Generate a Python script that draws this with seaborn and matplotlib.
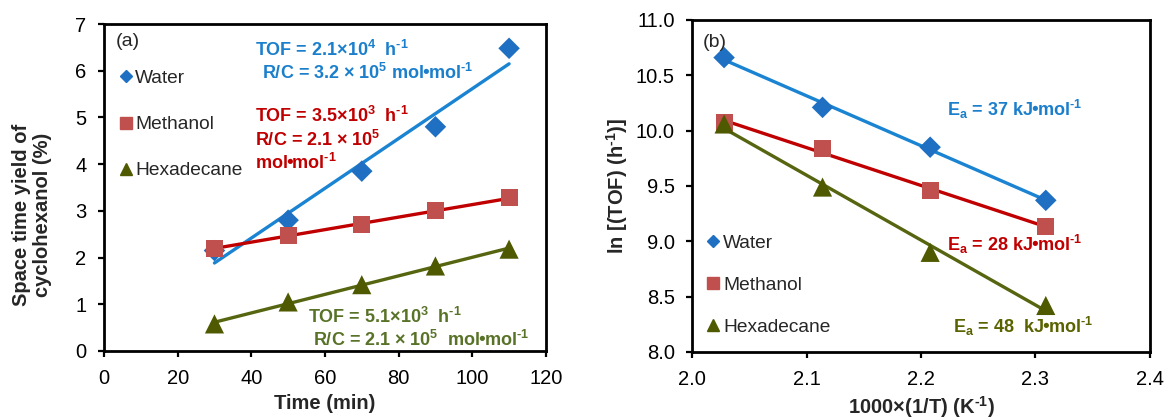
import numpy as np
import pandas as pd
import matplotlib
matplotlib.use("Agg")
import matplotlib.pyplot as plt
from matplotlib.lines import Line2D
import seaborn as sns

# ---- data -------------------------------------------------------------
solvents = ["Water", "Methanol", "Hexadecane"]

time_min = [30, 50, 70, 90, 110]
yield_water = [2.15, 2.80, 3.85, 4.80, 6.48]
yield_methanol = [2.20, 2.48, 2.70, 3.00, 3.28]
yield_hexadecane = [0.58, 1.05, 1.42, 1.82, 2.18]

inv_temp = [2.028, 2.114, 2.208, 2.309]
lntof_water = [10.66, 10.21, 9.85, 9.37]
lntof_methanol = [10.07, 9.84, 9.46, 9.13]
lntof_hexadecane = [10.06, 9.49, 8.90, 8.42]

# ---- styling ----------------------------------------------------------
marker_colors = {"Water": "#1f6fc2", "Methanol": "#c0504d", "Hexadecane": "#4f5a00"}
line_colors = {"Water": "#1a84d2", "Methanol": "#c00000", "Hexadecane": "#56650f"}
text_colors = {"Water": "#1b7fcc", "Methanol": "#c00000", "Hexadecane": "#587228"}
markers = {"Water": "D", "Methanol": "s", "Hexadecane": "^"}
marker_sizes = {"Water": 120, "Methanol": 150, "Hexadecane": 190}

sns.set_theme(style="white")
plt.rcParams["font.family"] = ["Liberation Sans", "DejaVu Sans"]
plt.rcParams["mathtext.default"] = "regular"

HY = "\u2010"            # short hyphen for the superscript exponents
BUL = "$\\!$•$\\!$"      # tight bullet between units
CROSS = "$\\;$×$\\;$"    # spaced multiplication sign

fig = plt.figure(figsize=(11.67, 4.19), dpi=100)
ax_a = fig.add_axes([0.0891, 0.1623, 0.3787, 0.7804])
ax_b = fig.add_axes([0.5930, 0.1600, 0.3924, 0.7924])

frames = {
    "a": pd.DataFrame({
        "x": time_min * 3,
        "y": yield_water + yield_methanol + yield_hexadecane,
        "solvent": np.repeat(solvents, len(time_min)),
    }),
    "b": pd.DataFrame({
        "x": inv_temp * 3,
        "y": lntof_water + lntof_methanol + lntof_hexadecane,
        "solvent": np.repeat(solvents, len(inv_temp)),
    }),
}

legend_pos = {"a": (-0.012, 0.913, 1.5), "b": (-0.012, 0.406, 1.28)}

for key, ax in (("a", ax_a), ("b", ax_b)):
    df = frames[key]
    for s in solvents:
        sub = df[df["solvent"] == s]
        sns.regplot(data=sub, x="x", y="y", ax=ax, scatter=False, ci=None,
                    line_kws=dict(color=line_colors[s], lw=2.4, zorder=2))
        sns.scatterplot(data=sub, x="x", y="y", ax=ax, marker=markers[s],
                        color=marker_colors[s], s=marker_sizes[s],
                        edgecolor="none", zorder=3, legend=False)

    handles = [Line2D([], [], ls="none", marker=markers[s], color=marker_colors[s],
                      markersize=8 if s != "Water" else 6.5) for s in solvents]
    lx, ly, spacing = legend_pos[key]
    ax.legend(handles, solvents, frameon=False, fontsize=13.8, labelspacing=spacing,
              handletextpad=0.0, handlelength=1.0, loc="upper left",
              bbox_to_anchor=(lx, ly))

    for sp in ax.spines.values():
        sp.set_linewidth(2.0)
        sp.set_color("black")
    ax.tick_params(axis="both", direction="out", length=4, width=1.6,
                   labelsize=14.5, colors="black", left=True, bottom=True)
    ax.tick_params(axis="x", pad=9)
    ax.tick_params(axis="y", pad=8.5)
    ax.set_xlabel("")
    ax.set_ylabel("")
    ax.grid(False)

# ---- panel (a) --------------------------------------------------------
ax_a.set_xlim(0, 120)
ax_a.set_ylim(0, 7)
ax_a.set_xticks(np.arange(0, 121, 20))
ax_a.set_yticks(np.arange(0, 8, 1))
ax_a.set_xlabel("Time (min)", fontsize=14.5, fontweight="bold", labelpad=4)
ax_a.set_ylabel("Space time yield of\ncyclohexanol (%)", fontsize=14.5,
                fontweight="bold", linespacing=1.15)
ax_a.yaxis.set_label_coords(-0.118, 0.416)
ax_a.text(3.2, 6.62, "(a)", fontsize=14, va="center")

ann = dict(fontsize=13, fontweight="bold", va="center", ha="left")
ax_a.text(41.0, 6.44, f"TOF = 2.1×10$^{{4}}$  h$^{{{HY}1}}$",
          color=text_colors["Water"], **ann)
ax_a.text(42.9, 5.95, f"R/C = 3.2{CROSS}10$^{{5}}$ mol{BUL}mol$^{{{HY}1}}$",
          color=text_colors["Water"], **ann)
ax_a.text(41.0, 5.03, f"TOF = 3.5×10$^{{3}}$  h$^{{{HY}1}}$",
          color=text_colors["Methanol"], **ann)
ax_a.text(41.0, 4.52, f"R/C = 2.1{CROSS}10$^{{5}}$",
          color=text_colors["Methanol"], **ann)
ax_a.text(41.0, 4.02, f"mol{BUL}mol$^{{{HY}1}}$",
          color=text_colors["Methanol"], **ann)
ax_a.text(55.4, 0.73, f"TOF = 5.1×10$^{{3}}$  h$^{{{HY}1}}$",
          color=text_colors["Hexadecane"], **ann)
ax_a.text(56.7, 0.24, f"R/C = 2.1{CROSS}10$^{{5}}$  mol{BUL}mol$^{{{HY}1}}$",
          color=text_colors["Hexadecane"], **ann)

# ---- panel (b) --------------------------------------------------------
ax_b.set_xlim(2.0, 2.4)
ax_b.set_ylim(8.0, 11.0)
ax_b.set_xticks(np.arange(2.0, 2.41, 0.1))
ax_b.set_yticks(np.arange(8.0, 11.01, 0.5))
ax_b.xaxis.set_major_formatter(matplotlib.ticker.FormatStrFormatter("%.1f"))
ax_b.yaxis.set_major_formatter(matplotlib.ticker.FormatStrFormatter("%.1f"))
ax_b.set_xlabel(f"1000×(1/T) (K$^{{{HY}1}}$)", fontsize=14.5, fontweight="bold", labelpad=4)
ax_b.set_ylabel(f"ln [(TOF) (h$^{{{HY}1}}$)]", fontsize=14.5, fontweight="bold", labelpad=4)
ax_b.text(2.009, 10.80, "(b)", fontsize=14, va="center")

ann_b = dict(fontsize=13, fontweight="bold", va="center", ha="left")
ax_b.text(2.223, 10.19, f"E$_{{a}}$ = 37 kJ{BUL}mol$^{{{HY}1}}$",
          color=text_colors["Water"], **ann_b)
ax_b.text(2.223, 8.97, f"E$_{{a}}$ = 28 kJ{BUL}mol$^{{{HY}1}}$",
          color=line_colors["Methanol"], **ann_b)
ax_b.text(2.228, 8.235, f"E$_{{a}}$ = 48  kJ{BUL}mol$^{{{HY}1}}$",
          color="#5a6300", **ann_b)

fig.savefig("out.png", dpi=100)
